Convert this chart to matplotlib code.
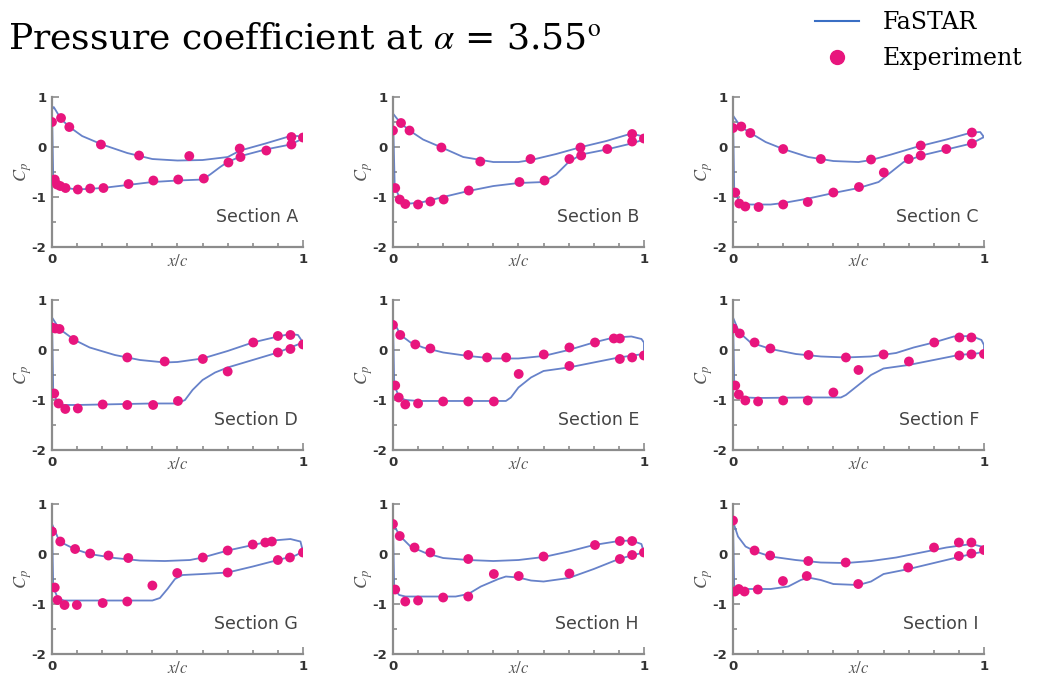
import matplotlib
matplotlib.use("Agg")
import matplotlib.pyplot as plt
from matplotlib.lines import Line2D
from matplotlib.ticker import MultipleLocator

plt.rcParams['mathtext.fontset'] = 'stix'
plt.rcParams['axes.unicode_minus'] = False

sections = ['A', 'B', 'C', 'D', 'E', 'F', 'G', 'H', 'I']

# FaSTAR, upper branch of the plot (higher Cp), x from leading to trailing edge
cfd_top_x = {
    'A': [0.0, 0.007, 0.036, 0.07, 0.12, 0.2, 0.3, 0.4, 0.5, 0.6, 0.7, 0.75, 0.85, 0.95, 0.98, 1.0],
    'B': [0.0, 0.03, 0.066, 0.12, 0.19, 0.28, 0.4, 0.5, 0.55, 0.65, 0.75, 0.85, 0.95, 0.99, 1.0],
    'C': [0.0, 0.03, 0.07, 0.13, 0.2, 0.3, 0.4, 0.5, 0.55, 0.63, 0.73, 0.85, 0.95, 0.985, 1.0],
    'D': [0.0, 0.03, 0.09, 0.15, 0.25, 0.35, 0.45, 0.5, 0.6, 0.7, 0.8, 0.9, 0.95, 0.98, 1.0],
    'E': [0.0, 0.03, 0.07, 0.12, 0.2, 0.3, 0.4, 0.5, 0.6, 0.7, 0.8, 0.88, 0.95, 0.99, 1.0, 1.0],
    'F': [0.0, 0.025, 0.07, 0.15, 0.25, 0.35, 0.45, 0.55, 0.65, 0.72, 0.8, 0.88, 0.95, 0.99, 1.0, 1.0],
    'G': [0.0, 0.03, 0.09, 0.15, 0.25, 0.35, 0.45, 0.55, 0.6, 0.7, 0.8, 0.88, 0.95, 0.99, 1.0],
    'H': [0.0, 0.03, 0.07, 0.13, 0.2, 0.3, 0.4, 0.5, 0.6, 0.7, 0.8, 0.9, 0.95, 0.99, 1.0],
    'I': [0.0, 0.02, 0.05, 0.09, 0.15, 0.25, 0.35, 0.45, 0.55, 0.65, 0.75, 0.85, 0.95, 0.99, 1.0],
}
cfd_top_cp = {
    'A': [0.75, 0.8, 0.56, 0.4, 0.22, 0.05, -0.12, -0.24, -0.27, -0.26, -0.2, -0.07, 0.07, 0.22, 0.22, 0.17],
    'B': [0.67, 0.48, 0.33, 0.15, 0.0, -0.2, -0.3, -0.3, -0.26, -0.14, 0.0, 0.12, 0.27, 0.22, 0.15],
    'C': [0.63, 0.41, 0.28, 0.1, -0.04, -0.2, -0.28, -0.3, -0.26, -0.15, 0.0, 0.15, 0.29, 0.3, 0.2],
    'D': [0.65, 0.42, 0.2, 0.05, -0.1, -0.2, -0.25, -0.24, -0.17, -0.02, 0.15, 0.27, 0.32, 0.3, 0.15],
    'E': [0.6, 0.3, 0.15, 0.05, -0.05, -0.12, -0.17, -0.17, -0.12, 0.0, 0.15, 0.25, 0.27, 0.22, 0.15, -0.08],
    'F': [0.65, 0.35, 0.15, 0.02, -0.08, -0.13, -0.15, -0.13, -0.06, 0.05, 0.15, 0.27, 0.28, 0.2, 0.1, -0.05],
    'G': [0.6, 0.25, 0.1, 0.0, -0.08, -0.13, -0.14, -0.12, -0.07, 0.07, 0.18, 0.27, 0.3, 0.25, 0.05],
    'H': [0.6, 0.35, 0.15, 0.02, -0.08, -0.12, -0.14, -0.12, -0.06, 0.05, 0.18, 0.26, 0.27, 0.2, 0.03],
    'I': [0.65, 0.35, 0.15, 0.05, -0.05, -0.12, -0.17, -0.18, -0.14, -0.07, 0.03, 0.13, 0.2, 0.15, 0.05],
}

# FaSTAR, lower branch of the plot (suction side)
cfd_bot_x = {
    'A': [0.0, 0.005, 0.03, 0.1, 0.2, 0.3, 0.4, 0.5, 0.6, 0.63, 0.67, 0.7, 0.76, 0.85, 0.95, 1.0],
    'B': [0.0, 0.007, 0.03, 0.07, 0.12, 0.2, 0.3, 0.4, 0.5, 0.6, 0.65, 0.7, 0.75, 0.85, 0.95, 1.0],
    'C': [0.0, 0.005, 0.03, 0.07, 0.15, 0.2, 0.3, 0.4, 0.5, 0.58, 0.63, 0.68, 0.75, 0.85, 0.95, 1.0],
    'D': [0.0, 0.005, 0.025, 0.05, 0.1, 0.2, 0.3, 0.4, 0.5, 0.53, 0.56, 0.6, 0.65, 0.7, 0.8, 0.9, 0.95, 1.0],
    'E': [0.0, 0.005, 0.025, 0.05, 0.1, 0.3, 0.45, 0.47, 0.5, 0.55, 0.6, 0.7, 0.8, 0.9, 0.97, 1.0],
    'F': [0.0, 0.005, 0.025, 0.05, 0.1, 0.3, 0.43, 0.45, 0.5, 0.55, 0.6, 0.7, 0.8, 0.9, 0.97, 1.0],
    'G': [0.0, 0.005, 0.025, 0.05, 0.1, 0.3, 0.4, 0.43, 0.46, 0.49, 0.52, 0.6, 0.7, 0.8, 0.9, 0.97, 1.0],
    'H': [0.0, 0.005, 0.025, 0.05, 0.1, 0.25, 0.3, 0.35, 0.42, 0.45, 0.5, 0.55, 0.6, 0.7, 0.8, 0.9, 0.95, 1.0],
    'I': [0.0, 0.005, 0.05, 0.15, 0.22, 0.27, 0.3, 0.35, 0.4, 0.5, 0.55, 0.6, 0.7, 0.8, 0.9, 0.95, 1.0],
}
cfd_bot_cp = {
    'A': [0.75, -0.63, -0.8, -0.85, -0.82, -0.76, -0.7, -0.67, -0.65, -0.55, -0.4, -0.3, -0.17, -0.05, 0.05, 0.17],
    'B': [0.67, -0.8, -1.05, -1.13, -1.1, -1.0, -0.88, -0.78, -0.72, -0.7, -0.55, -0.3, -0.15, -0.05, 0.07, 0.15],
    'C': [0.63, -0.9, -1.12, -1.15, -1.15, -1.12, -1.03, -0.92, -0.82, -0.7, -0.5, -0.3, -0.17, -0.05, 0.07, 0.2],
    'D': [0.65, -0.87, -1.07, -1.1, -1.1, -1.09, -1.08, -1.07, -1.07, -1.0, -0.8, -0.6, -0.45, -0.35, -0.2, -0.05, 0.05, 0.15],
    'E': [0.6, -0.7, -0.95, -1.0, -1.02, -1.02, -1.02, -0.95, -0.75, -0.55, -0.42, -0.35, -0.25, -0.15, -0.1, -0.08],
    'F': [0.65, -0.7, -0.9, -0.95, -0.96, -0.95, -0.95, -0.9, -0.7, -0.5, -0.37, -0.3, -0.2, -0.1, -0.07, -0.05],
    'G': [0.6, -0.67, -0.9, -0.93, -0.93, -0.93, -0.93, -0.88, -0.7, -0.5, -0.42, -0.4, -0.37, -0.25, -0.12, -0.03, 0.05],
    'H': [0.6, -0.7, -0.82, -0.85, -0.85, -0.85, -0.8, -0.65, -0.5, -0.45, -0.47, -0.53, -0.55, -0.48, -0.3, -0.1, -0.03, 0.03],
    'I': [0.65, -0.7, -0.7, -0.7, -0.65, -0.52, -0.47, -0.52, -0.6, -0.62, -0.55, -0.4, -0.3, -0.18, -0.06, 0.0, 0.05],
}

# Experiment
exp_x = {
    'A': [0.0, 0.036, 0.069, 0.195, 0.347, 0.547, 0.748, 0.954, 1.0,
          0.011, 0.02, 0.033, 0.054, 0.103, 0.152, 0.205, 0.305, 0.404, 0.503, 0.605, 0.703, 0.751, 0.854, 0.954],
    'B': [0.0, 0.032, 0.066, 0.193, 0.348, 0.548, 0.747, 0.953, 1.0,
          0.009, 0.027, 0.049, 0.1, 0.149, 0.202, 0.302, 0.504, 0.604, 0.703, 0.75, 0.854, 0.953],
    'C': [0.0, 0.033, 0.069, 0.2, 0.35, 0.55, 0.748, 0.952,
          0.009, 0.025, 0.049, 0.102, 0.2, 0.298, 0.4, 0.502, 0.601, 0.7, 0.748, 0.85, 0.952],
    'D': [0.0, 0.013, 0.03, 0.086, 0.3, 0.449, 0.601, 0.802, 0.9, 0.95, 1.0,
          0.009, 0.026, 0.053, 0.103, 0.202, 0.3, 0.403, 0.502, 0.7, 0.9, 0.95],
    'E': [0.0, 0.029, 0.089, 0.149, 0.3, 0.375, 0.451, 0.601, 0.703, 0.805, 0.88, 0.904,
          0.009, 0.023, 0.049, 0.1, 0.2, 0.3, 0.402, 0.501, 0.703, 0.904, 0.953, 1.0],
    'F': [0.0, 0.027, 0.086, 0.149, 0.301, 0.45, 0.6, 0.802, 0.902, 0.95,
          0.009, 0.023, 0.049, 0.1, 0.2, 0.298, 0.4, 0.5, 0.701, 0.902, 0.95, 1.0],
    'G': [0.0, 0.033, 0.092, 0.152, 0.225, 0.304, 0.601, 0.7, 0.8, 0.85, 0.876,
          0.011, 0.022, 0.05, 0.099, 0.202, 0.3, 0.4, 0.499, 0.7, 0.9, 0.948, 1.0],
    'H': [0.0, 0.027, 0.086, 0.149, 0.3, 0.6, 0.805, 0.904, 0.953, 1.0,
          0.009, 0.049, 0.1, 0.2, 0.3, 0.402, 0.501, 0.703, 0.904, 0.953],
    'I': [0.0, 0.086, 0.148, 0.3, 0.449, 0.801, 0.9, 0.95, 1.0,
          0.007, 0.023, 0.046, 0.099, 0.199, 0.294, 0.499, 0.698, 0.9, 0.95],
}
exp_cp = {
    'A': [0.5, 0.58, 0.4, 0.05, -0.17, -0.18, -0.03, 0.2, 0.19,
          -0.65, -0.75, -0.78, -0.82, -0.85, -0.83, -0.82, -0.74, -0.67, -0.65, -0.63, -0.31, -0.2, -0.07, 0.05],
    'B': [0.33, 0.48, 0.33, -0.01, -0.29, -0.24, -0.01, 0.26, 0.17,
          -0.82, -1.05, -1.14, -1.15, -1.09, -1.05, -0.87, -0.7, -0.67, -0.24, -0.17, -0.04, 0.11],
    'C': [0.38, 0.41, 0.28, -0.04, -0.24, -0.25, 0.03, 0.29,
          -0.91, -1.13, -1.19, -1.2, -1.15, -1.1, -0.91, -0.8, -0.51, -0.24, -0.17, -0.04, 0.07],
    'D': [0.45, 0.43, 0.42, 0.2, -0.15, -0.23, -0.18, 0.15, 0.28, 0.3, 0.11,
          -0.87, -1.07, -1.18, -1.17, -1.09, -1.1, -1.1, -1.02, -0.43, -0.05, 0.02],
    'E': [0.5, 0.3, 0.11, 0.03, -0.1, -0.15, -0.15, -0.09, 0.05, 0.15, 0.23, 0.23,
          -0.71, -0.95, -1.09, -1.07, -1.03, -1.03, -1.03, -0.48, -0.32, -0.18, -0.15, -0.11],
    'F': [0.43, 0.33, 0.15, 0.03, -0.1, -0.15, -0.09, 0.15, 0.25, 0.25,
          -0.71, -0.89, -1.01, -1.03, -1.01, -1.01, -0.85, -0.4, -0.23, -0.11, -0.09, -0.08],
    'G': [0.45, 0.25, 0.1, 0.01, -0.03, -0.08, -0.07, 0.07, 0.19, 0.23, 0.25,
          -0.67, -0.92, -1.02, -1.02, -0.98, -0.95, -0.63, -0.38, -0.37, -0.12, -0.07, 0.03],
    'H': [0.6, 0.36, 0.13, 0.03, -0.1, -0.05, 0.18, 0.26, 0.26, 0.03,
          -0.71, -0.95, -0.93, -0.87, -0.85, -0.4, -0.44, -0.39, -0.1, -0.02],
    'I': [0.67, 0.07, -0.03, -0.14, -0.17, 0.13, 0.23, 0.23, 0.08,
          -0.75, -0.7, -0.75, -0.71, -0.54, -0.44, -0.6, -0.27, -0.04, 0.01],
}

line_color = '#5674c4'
dot_color = '#e8157d'
axis_color = '#8c8c8c'
text_color = '#444444'

fig = plt.figure(figsize=(10.44, 6.79), dpi=100)

lefts = [0.0498, 0.3764, 0.7021]
bottoms = [0.6362, 0.3373, 0.0368]
w, h = 0.2404, 0.2209

for i, sec in enumerate(sections):
    row, col = divmod(i, 3)
    ax = fig.add_axes([lefts[col], bottoms[row], w, h])

    # closed loop: trailing edge -> leading edge along the top branch, then back along the bottom one
    xs = cfd_top_x[sec][::-1] + cfd_bot_x[sec]
    ys = cfd_top_cp[sec][::-1] + cfd_bot_cp[sec]
    ax.plot(xs, ys, color=line_color, lw=1.3, alpha=0.9, zorder=2)
    ax.scatter(exp_x[sec], exp_cp[sec], s=50, color=dot_color, edgecolors='none', zorder=3)

    ax.set_xlim(0, 1)
    ax.set_ylim(-2, 1)
    ax.set_xticks([0, 1])
    ax.set_yticks([1, 0, -1, -2])
    ax.xaxis.set_minor_locator(MultipleLocator(0.1))
    ax.yaxis.set_minor_locator(MultipleLocator(0.5))
    ax.tick_params(which='both', direction='in', color=axis_color, width=1.2)
    ax.tick_params(which='major', length=5, labelsize=9.5, labelcolor='#333333', pad=4)
    ax.tick_params(which='minor', length=3)
    for lab in ax.get_xticklabels() + ax.get_yticklabels():
        lab.set_fontweight('bold')

    for side in ['top', 'right']:
        ax.spines[side].set_visible(False)
    for side in ['left', 'bottom']:
        ax.spines[side].set_color(axis_color)
        ax.spines[side].set_linewidth(1.6)

    ax.set_xlabel(r'$x/c$', fontsize=12, color='#555555', labelpad=-10)
    ax.set_ylabel(r'$C_p$', fontsize=13, color='#555555', labelpad=-2)
    ax.text(0.98, 0.2, 'Section ' + sec, transform=ax.transAxes, ha='right', va='center',
            fontsize=12.5, color=text_color)

fig.text(0.008, 0.943, r'Pressure coefficient at $\alpha$ = 3.55$^{\mathrm{o}}$',
         fontsize=26, family='DejaVu Serif', va='center', ha='left')

handles = [Line2D([], [], color='#3a6fc4', lw=1.5),
           Line2D([], [], color=dot_color, marker='o', ls='none', markersize=10)]
fig.legend(handles, ['FaSTAR', 'Experiment'], loc='upper right', bbox_to_anchor=(1.0, 1.015),
           frameon=False, prop={'family': 'DejaVu Serif', 'size': 17},
           handlelength=1.9, labelspacing=0.55, handletextpad=1.0)

fig.savefig('out.png', dpi=100)
